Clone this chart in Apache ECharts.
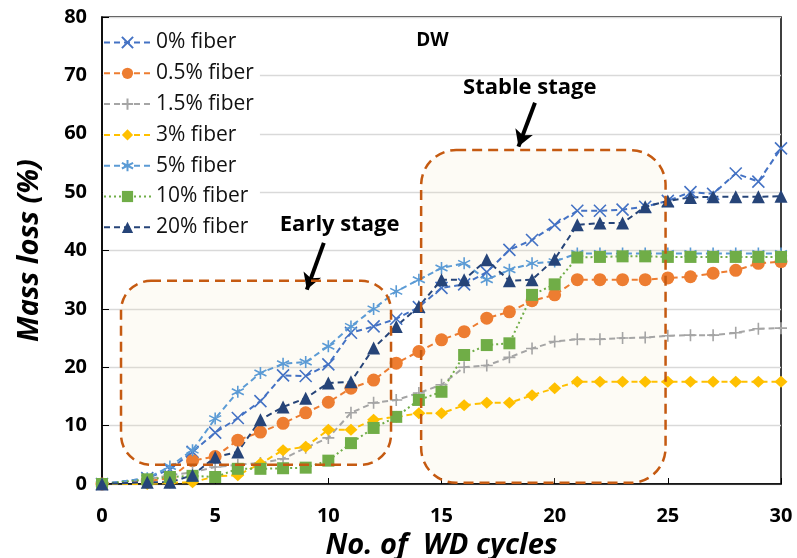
<!DOCTYPE html>
<html style="height: 100%">
<head>
<meta charset="UTF-8">
</head>
<body style="height: 100%; margin: 0; background: #fff">
<div id="container" style="width: 797px; height: 558px"></div>
<script type="text/javascript" src="https://cdn.jsdelivr.net/npm/echarts@6.0.0/dist/echarts.min.js"></script>
<script type="text/javascript">
var cycles   = [0, 2, 3, 4, 5, 6, 7, 8, 9, 10, 11, 12, 13, 14, 15, 16, 17, 18, 19, 20, 21, 22, 23, 24, 25, 26, 27, 28, 29, 30];
var fiber0   = [0, 1.0, 2.5, 5.5, 8.8, 11.3, 14.2, 18.6, 18.5, 20.5, 25.9, 27.0, 28.3, 30.3, 33.6, 34.2, 36.3, 40.1, 41.8, 44.4, 46.8, 46.8, 47.0, 47.5, 48.5, 50.0, 49.7, 53.2, 51.8, 57.5];
var fiber05  = [0, 0.5, 1.0, 4.0, 4.7, 7.5, 8.9, 10.4, 12.2, 14.0, 16.4, 17.8, 20.7, 22.7, 24.7, 26.1, 28.4, 29.5, 31.4, 32.4, 35.0, 35.0, 35.0, 35.0, 35.3, 35.5, 36.1, 36.6, 37.8, 38.1];
var fiber15  = [0, 0.8, 1.5, 2.0, 2.9, 3.3, 3.6, 4.3, 6.2, 7.9, 12.2, 13.9, 14.4, 15.6, 17.0, 20.0, 20.3, 21.7, 23.2, 24.4, 24.8, 24.8, 25.0, 25.1, 25.4, 25.5, 25.5, 25.9, 26.6, 26.7];
var fiber3   = [0, 0, 0.2, 0.3, 1.3, 1.5, 3.5, 5.8, 6.4, 9.3, 9.3, 11.0, 11.5, 12.1, 12.1, 13.5, 13.9, 13.9, 15.2, 16.4, 17.5, 17.5, 17.5, 17.5, 17.5, 17.5, 17.5, 17.5, 17.5, 17.5];
var fiber5   = [0, 1.0, 3.0, 5.8, 11.2, 15.8, 19.0, 20.6, 20.9, 23.6, 27.0, 30.0, 33.0, 35.0, 37.0, 37.8, 35.0, 36.7, 37.8, 38.1, 39.5, 39.5, 39.5, 39.5, 39.5, 39.5, 39.5, 39.5, 39.5, 39.5];
var fiber10  = [0, 0.8, 1.2, 1.4, 1.2, 2.6, 2.6, 2.7, 2.8, 4.0, 7.0, 9.6, 11.5, 14.4, 15.8, 22.1, 23.8, 24.1, 32.4, 34.2, 38.8, 38.9, 39.0, 39.0, 38.9, 38.9, 38.9, 38.9, 38.9, 38.9];
var fiber20  = [0, 0.3, 0.3, 1.5, 4.6, 5.5, 11.0, 13.2, 14.7, 17.3, 17.5, 23.3, 27.0, 30.4, 35.0, 35.0, 38.4, 34.8, 35.0, 38.5, 44.4, 44.7, 44.7, 47.5, 48.5, 49.1, 49.2, 49.2, 49.2, 49.3];
var names    = ['0% fiber', '0.5% fiber', '1.5% fiber', '3% fiber', '5% fiber', '10% fiber', '20% fiber'];
var values   = [fiber0, fiber05, fiber15, fiber3, fiber5, fiber10, fiber20];
var colors   = ['#4472C4', '#ED7D31', '#A5A5A5', '#FFC000', '#5B9BD5', '#70AD47', '#264478'];

var FONT = 'Open Sans';
var symX = 'path://M0,0L10,10M10,0L0,10';
var symPlus = 'path://M5,0L5,10M0,5L10,5';
var symStar = 'path://M5,0L5,10M0.7,2.5L9.3,7.5M9.3,2.5L0.7,7.5';
var marks = [
  { symbol: symX, size: 12, stroke: true },
  { symbol: 'circle', size: 13 },
  { symbol: symPlus, size: 12, stroke: true },
  { symbol: 'diamond', size: [13, 12] },
  { symbol: symStar, size: 12, stroke: true },
  { symbol: 'rect', size: 12 },
  { symbol: 'triangle', size: 13 }
];

var myChart = echarts.init(document.getElementById('container'));

var series = names.map(function (n, k) {
  var m = marks[k];
  return {
    name: n,
    type: 'line',
    data: cycles.map(function (c, i) { return [c, values[k][i]]; }),
    symbol: m.symbol,
    symbolSize: m.size,
    showAllSymbol: true,
    lineStyle: { color: colors[k], width: 2, type: k === 5 ? [2, 3] : [6, 4] },
    itemStyle: m.stroke
      ? { color: 'rgba(0,0,0,0)', borderColor: colors[k], borderWidth: 1.6 }
      : { color: colors[k] },
    emphasis: { disabled: true }
  };
});

// arrows for the stage labels
series.push({
  name: 'arrows',
  type: 'line',
  data: [],
  markLine: {
    silent: true,
    symbol: ['none', 'arrow'],
    symbolSize: [14, 16],
    label: { show: false },
    lineStyle: { color: '#000', width: 4, type: 'solid' },
    data: [
      [{ coord: [9.8, 41.3] }, { coord: [9.05, 33.3] }],
      [{ coord: [19.13, 65.3] }, { coord: [18.4, 57.8] }]
    ]
  }
});

var option = {
  animation: false,
  grid: {
    left: 102, right: 16, top: 17, bottom: 74,
    outerBoundsMode: 'none', containLabel: false,
    show: true, borderColor: '#000', borderWidth: 1.5
  },
  legend: {
    data: names,
    orient: 'vertical',
    left: 103, top: 30,
    itemWidth: 47, itemHeight: 14, itemGap: 9.8,
    padding: [2, 6, 2, 0],
    backgroundColor: '#fff',
    textStyle: { fontFamily: FONT, fontSize: 21, color: '#111' }
  },
  xAxis: {
    type: 'value', min: 0, max: 30, interval: 5,
    name: 'No. of  WD cycles', nameLocation: 'middle', nameGap: 40,
    nameTextStyle: { fontFamily: FONT, fontSize: 29, fontWeight: 'bold', fontStyle: 'italic', color: '#000' },
    axisLine: { lineStyle: { color: '#000', width: 1.5 } },
    axisTick: { inside: true, length: 6, lineStyle: { color: '#000' } },
    axisLabel: { fontFamily: FONT, fontSize: 20, fontWeight: 'bold', color: '#000', margin: 22 },
    splitLine: { show: false }
  },
  yAxis: {
    type: 'value', min: 0, max: 80, interval: 10,
    name: 'Mass loss (%)', nameLocation: 'middle', nameGap: 58,
    nameTextStyle: { fontFamily: FONT, fontSize: 29, fontWeight: 'bold', fontStyle: 'italic', color: '#000' },
    axisLine: { show: true, lineStyle: { color: '#000', width: 1.5 } },
    axisTick: { show: true, inside: true, length: 7, lineStyle: { color: '#000' } },
    axisLabel: { fontFamily: FONT, fontSize: 20, fontWeight: 'bold', color: '#000', margin: 15 },
    splitLine: { lineStyle: { color: '#d9d9d9', width: 1.3 } }
  },
  series: series
};
myChart.setOption(option);

// stage boxes + text, placed from data coordinates
function px(x, y) { return myChart.convertToPixel({ gridIndex: 0 }, [x, y]); }
function box(x0, y0, x1, y1, r) {
  var a = px(x0, y1), b = px(x1, y0);
  return { x: a[0], y: a[1], width: b[0] - a[0], height: b[1] - a[1], r: r };
}
function txt(x, y, s, size) {
  var p = px(x, y);
  return {
    type: 'text', x: p[0], y: p[1], z: 20,
    style: { text: s, fontFamily: FONT, fontSize: size, fontWeight: 'bold', fill: '#000', align: 'center', verticalAlign: 'middle' }
  };
}
var early = box(0.84, 3.3, 12.77, 34.8, 30);
var stable = box(14.1, 0.2, 24.9, 57.2, 35);
var edge = { fill: null, stroke: '#C55A11', lineWidth: 2.5, lineDash: [10, 6] };
var shade = { fill: 'rgba(240,225,190,0.15)', stroke: null };
myChart.setOption({
  graphic: [
    { type: 'rect', z: 1, shape: early, style: shade },
    { type: 'rect', z: 1, shape: stable, style: shade },
    { type: 'rect', z: 50, shape: early, style: edge },
    { type: 'rect', z: 50, shape: stable, style: edge },
    txt(14.6, 76.0, 'DW', 19),
    txt(10.5, 44.4, 'Early stage', 22),
    txt(18.9, 67.9, 'Stable stage', 22)
  ]
});
</script>
</body>
</html>
